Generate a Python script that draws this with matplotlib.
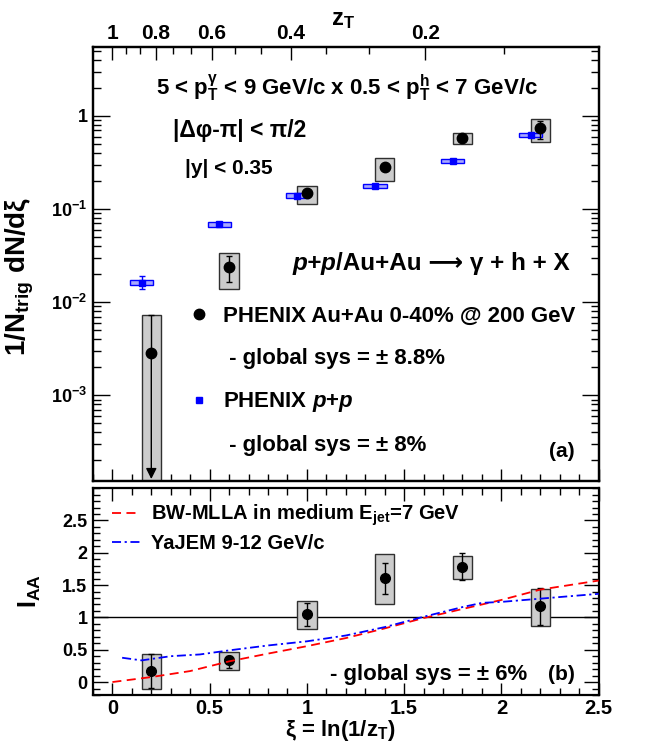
import numpy as np
import matplotlib
matplotlib.use("Agg")
import matplotlib.pyplot as plt
from matplotlib.lines import Line2D
from matplotlib.ticker import MultipleLocator, FixedLocator, NullFormatter, LogLocator

plt.rcParams['font.family'] = ['Liberation Sans', 'DejaVu Sans']
plt.rcParams['font.weight'] = 'bold'
plt.rcParams['mathtext.fontset'] = 'custom'
plt.rcParams['mathtext.rm'] = 'Liberation Sans:bold'
plt.rcParams['mathtext.bf'] = 'Liberation Sans:bold'
plt.rcParams['mathtext.it'] = 'Liberation Sans:italic:bold'
plt.rcParams['mathtext.sf'] = 'Liberation Sans:bold'
plt.rcParams['mathtext.default'] = 'rm'

# --- top panel: per-trigger yields vs xi ---
au_xi = [0.2, 0.6, 1.0, 1.4, 1.8, 2.2]
au_y = [2.85e-3, 0.024, 0.147, 0.285, 0.575, 0.74]
au_stat_lo = [1.2e-4, 0.0165, 0.138, 0.265, 0.555, 0.57]
au_stat_hi = [7.2e-3, 0.031, 0.157, 0.305, 0.595, 0.88]
au_sys_lo = [1e-5, 0.014, 0.113, 0.20, 0.50, 0.53]
au_sys_hi = [7.2e-3, 0.034, 0.178, 0.356, 0.65, 0.92]

pp_xi = [0.15, 0.55, 0.95, 1.35, 1.75, 2.15]
pp_y = [0.0162, 0.0684, 0.139, 0.178, 0.33, 0.625]
pp_stat_lo = [0.0138, 0.066, 0.135, 0.173, 0.322, 0.61]
pp_stat_hi = [0.019, 0.0708, 0.143, 0.183, 0.338, 0.64]
pp_sys_lo = [0.0153, 0.0645, 0.131, 0.168, 0.311, 0.59]
pp_sys_hi = [0.0171, 0.0725, 0.147, 0.188, 0.349, 0.66]

# --- bottom panel: I_AA ---
ia_xi = [0.2, 0.6, 1.0, 1.4, 1.8, 2.2]
ia_y = [0.17, 0.335, 1.045, 1.605, 1.785, 1.17]
ia_stat_lo = [-0.09, 0.21, 0.86, 1.36, 1.58, 0.875]
ia_stat_hi = [0.43, 0.40, 1.23, 1.84, 2.00, 1.45]
ia_sys_lo = [-0.10, 0.19, 0.82, 1.21, 1.595, 0.865]
ia_sys_hi = [0.44, 0.46, 1.25, 1.98, 1.95, 1.44]

mlla_xi = [0.0, 0.2, 0.4, 0.6, 0.8, 1.0, 1.2, 1.4, 1.6, 1.8, 2.0, 2.2, 2.5]
mlla_y = [0.0, 0.077, 0.17, 0.32, 0.44, 0.555, 0.68, 0.83, 0.99, 1.13, 1.27, 1.43, 1.57]

yajem_xi = [0.05, 0.15, 0.3, 0.45, 0.6, 0.8, 1.0, 1.2, 1.4, 1.6, 1.8, 1.9, 2.0, 2.2, 2.5]
yajem_y = [0.376, 0.335, 0.40, 0.427, 0.49, 0.566, 0.63, 0.72, 0.85, 1.01, 1.16, 1.225, 1.24, 1.29, 1.365]

zt_major = [1.0, 0.8, 0.6, 0.4, 0.2]
zt_major_labels = ["1", "0.8", "0.6", "0.4", "0.2"]
zt_minor = [0.9333, 0.8667, 0.7333, 0.6667, 0.5333, 0.4667, 0.3333, 0.2667, 0.1333]

logy_ticks = [1e-3, 1e-2, 1e-1, 1.0]
logy_labels = [r"$10^{-3}$", r"$10^{-2}$", r"$10^{-1}$", "1"]

fig = plt.figure(figsize=(6.5, 7.44), dpi=100)
ax = fig.add_axes([0.143, 0.3535, 0.778, 0.5833])
axb = fig.add_axes([0.143, 0.0659, 0.778, 0.278])

box_gray = '#cccccc'
box_edge = '#303030'

# top panel
ax.set_yscale('log')
ax.set_xlim(-0.1, 2.5)
ax.set_ylim(1.2e-4, 5.5)

ax.bar(au_xi, np.array(au_sys_hi) - np.array(au_sys_lo), bottom=au_sys_lo, width=0.1,
       color=box_gray, edgecolor=box_edge, linewidth=1, zorder=2)
ax.bar(pp_xi, np.array(pp_sys_hi) - np.array(pp_sys_lo), bottom=pp_sys_lo, width=0.12,
       color='#a8a8ff', edgecolor='blue', linewidth=1, zorder=2)

au_y_arr = np.array(au_y)
ax.errorbar(au_xi[1:], au_y[1:],
            yerr=[au_y_arr[1:] - np.array(au_stat_lo[1:]), np.array(au_stat_hi[1:]) - au_y_arr[1:]],
            fmt='none', ecolor='k', elinewidth=1, capsize=2.5, capthick=1, zorder=3)
# first point: upper limit drawn as an arrow down to the axis
ax.errorbar([au_xi[0]], [au_y[0]], yerr=[[0], [au_stat_hi[0] - au_y[0]]],
            fmt='none', ecolor='k', elinewidth=1, capsize=2.5, capthick=1, zorder=3)
ax.annotate('', xy=(au_xi[0], au_stat_lo[0] * 1.05), xytext=(au_xi[0], au_y[0]),
            arrowprops=dict(arrowstyle='-|>', color='k', lw=1, mutation_scale=16,
                            shrinkA=0, shrinkB=0), zorder=3)
ax.plot(au_xi, au_y, 'o', color='k', ms=7.5, zorder=4)

pp_y_arr = np.array(pp_y)
ax.errorbar(pp_xi, pp_y, yerr=[pp_y_arr - np.array(pp_stat_lo), np.array(pp_stat_hi) - pp_y_arr],
            fmt='none', ecolor='blue', elinewidth=1, capsize=2, capthick=1, zorder=3)
ax.plot(pp_xi, pp_y, 's', color='blue', ms=5, zorder=4)

ax.yaxis.set_major_locator(FixedLocator(logy_ticks))
ax.set_yticklabels(logy_labels)
ax.yaxis.set_minor_locator(LogLocator(base=10, subs=np.arange(2, 10)))
ax.yaxis.set_minor_formatter(NullFormatter())
ax.xaxis.set_major_locator(MultipleLocator(0.5))
ax.xaxis.set_minor_locator(MultipleLocator(0.1))
ax.tick_params(axis='y', which='major', direction='in', length=12, width=1, right=True,
               labelsize=13, pad=4)
ax.tick_params(axis='y', which='minor', direction='in', length=6, width=1, right=True)
ax.tick_params(axis='x', which='major', direction='in', length=9, width=1, top=False,
               labelbottom=False)
ax.tick_params(axis='x', which='minor', direction='in', length=5, width=1, top=False)

ax2 = ax.twiny()
ax2.set_xlim(ax.get_xlim())
ax2.set_xticks(-np.log(zt_major))
ax2.set_xticklabels(zt_major_labels)
ax2.set_xticks(-np.log(zt_minor), minor=True)
ax2.tick_params(axis='x', which='major', direction='in', length=9, width=1, labelsize=15, pad=3)
ax2.tick_params(axis='x', which='minor', direction='in', length=5, width=1)

for a in (ax, ax2, axb):
    for s in a.spines.values():
        s.set_linewidth(1.6)

ax.text(0.502, 0.889, r"5 < p$_{\mathrm{T}}^{\gamma}$ < 9 GeV/c x 0.5 < p$_{\mathrm{T}}^{\mathrm{h}}$ < 7 GeV/c",
        transform=ax.transAxes, ha='center', va='baseline', fontsize=16)
ax.text(0.158, 0.793, "|Δφ-π| < π/2", transform=ax.transAxes, ha='left', va='baseline',
        fontsize=16.5)
ax.text(0.182, 0.707, "|y| < 0.35", transform=ax.transAxes, ha='left', va='baseline',
        fontsize=15)
# reaction label: plain text (so the long arrow can fall back to DejaVu) plus italic p+p in front
react = ax.text(0.943, 0.475, "/Au+Au ⟶ γ + h + X", transform=ax.transAxes,
                ha='right', va='bottom', fontsize=17.5)
ax.annotate("p+p", xy=(0, 0), xycoords=react, ha='right', va='bottom', fontsize=17.5,
            style='italic')
ax.text(0.953, 0.056, "(a)", transform=ax.transAxes, ha='right', va='baseline', fontsize=15)

handles = [Line2D([], [], marker='o', color='k', ls='none', ms=7.5),
           Line2D([], [], ls='none'),
           Line2D([], [], marker='s', color='blue', ls='none', ms=5),
           Line2D([], [], ls='none')]
labels = ["PHENIX Au+Au 0-40% @ 200 GeV", " - global sys = ± 8.8%",
          r"PHENIX $\mathit{p}$+$\mathit{p}$", " - global sys = ± 8%"]
leg = ax.legend(handles, labels, loc='upper left', bbox_to_anchor=(0.1885, 0.403),
                frameon=False, fontsize=16, borderpad=0, borderaxespad=0,
                handlelength=1.0, handletextpad=0.55, labelspacing=0.95)

# bottom panel
axb.set_xlim(-0.1, 2.5)
axb.set_ylim(-0.2, 3.0)
axb.bar(ia_xi, np.array(ia_sys_hi) - np.array(ia_sys_lo), bottom=ia_sys_lo, width=0.1,
        color=box_gray, edgecolor=box_edge, linewidth=1, zorder=2)
ia_y_arr = np.array(ia_y)
axb.errorbar(ia_xi, ia_y, yerr=[ia_y_arr - np.array(ia_stat_lo), np.array(ia_stat_hi) - ia_y_arr],
             fmt='none', ecolor='k', elinewidth=1, capsize=2.5, capthick=1, zorder=3)
axb.plot(ia_xi, ia_y, 'o', color='k', ms=7, zorder=4)
axb.axhline(1.0, color='k', lw=1, zorder=1)
axb.plot(mlla_xi, mlla_y, color='red', lw=1.3, dashes=(5, 3), zorder=5,
         label=r"BW-MLLA in medium E$_{\mathrm{jet}}$=7 GeV")
axb.plot(yajem_xi, yajem_y, color='blue', lw=1.3, dashes=(5, 2, 1.2, 2), zorder=5,
         label="YaJEM 9-12 GeV/c")

axb.set_xticks([0, 0.5, 1, 1.5, 2, 2.5])
axb.set_xticklabels(["0", "0.5", "1", "1.5", "2", "2.5"])
axb.xaxis.set_minor_locator(MultipleLocator(0.1))
axb.set_yticks([0, 0.5, 1, 1.5, 2, 2.5])
axb.set_yticklabels(["0", "0.5", "1", "1.5", "2", "2.5"])
axb.yaxis.set_minor_locator(MultipleLocator(0.1))
axb.tick_params(axis='x', which='major', direction='in', length=9, width=1, top=True,
                labelsize=14.5, pad=3)
axb.tick_params(axis='x', which='minor', direction='in', length=5, width=1, top=True)
axb.tick_params(axis='y', which='major', direction='in', length=11, width=1, right=True,
                labelsize=13, pad=4)
axb.tick_params(axis='y', which='minor', direction='in', length=5, width=1, right=True)

axb.legend(loc='upper left', bbox_to_anchor=(0.0375, 0.93), frameon=False, fontsize=14.5,
           borderpad=0, borderaxespad=0, handlelength=1.4, handletextpad=0.55,
           labelspacing=0.3)
axb.text(0.468, 0.0725, "- global sys = ± 6%", transform=axb.transAxes, ha='left',
         va='baseline', fontsize=16)
axb.text(0.953, 0.0725, "(b)", transform=axb.transAxes, ha='right', va='baseline',
         fontsize=15)

# axis titles
fig.text(0.523, 0.0105, r"ξ = ln(1/z$_{\mathrm{T}}$)", ha='center', va='baseline', fontsize=16)
fig.text(0.527, 0.966, r"z$_{\mathrm{T}}$", ha='center', va='baseline', fontsize=17)
fig.text(0.031, 0.628, r"1/N$_{\mathrm{trig}}$ dN/dξ", rotation=90, ha='center', va='center',
         fontsize=20)
fig.text(0.046, 0.205, r"I$_{\mathrm{AA}}$", rotation=90, ha='center', va='center', fontsize=18)

fig.savefig("out.png", dpi=100)
